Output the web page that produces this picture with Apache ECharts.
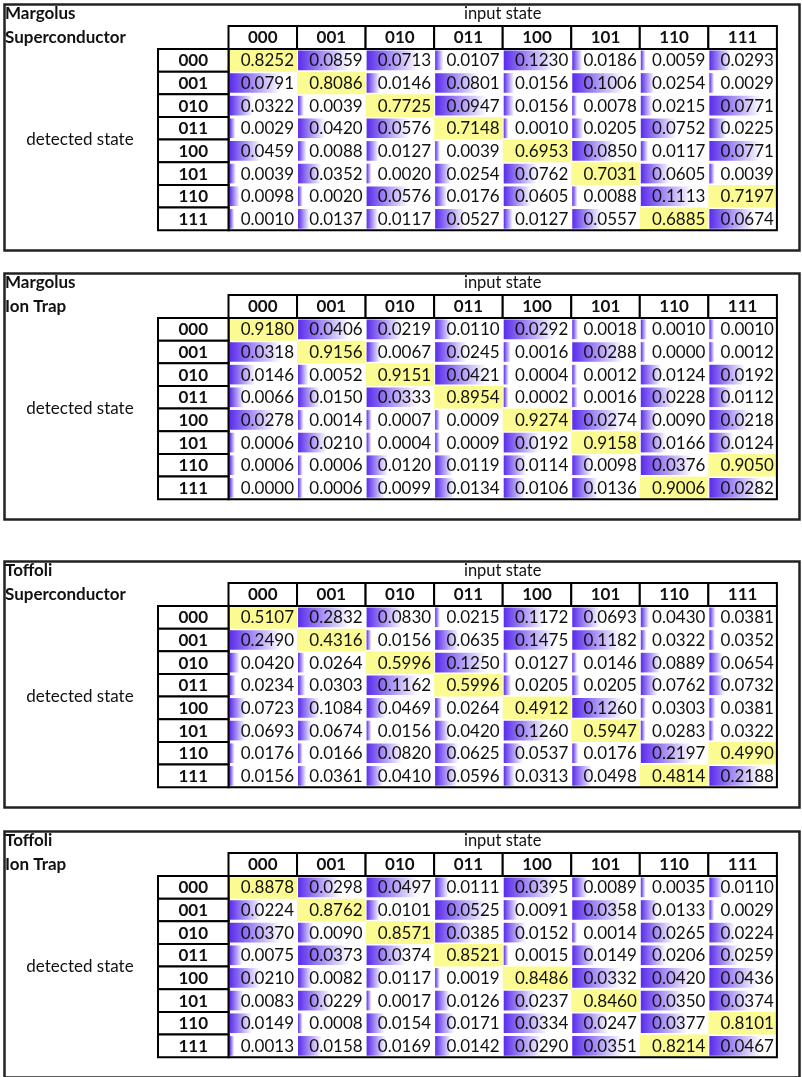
<!DOCTYPE html>
<html>
<head>
<meta charset="utf-8">
<script src="https://cdn.jsdelivr.net/npm/echarts@6/dist/echarts.min.js"></script>
<style>
html,body{margin:0;padding:0;background:#fff;}
#chart{width:802px;height:1077px;}
</style>
</head>
<body>
<div id="chart"></div>
<script>
// ---------- data ----------
const inputStates = ['000','001','010','011','100','101','110','111'];
const detectedStates = ['000','001','010','011','100','101','110','111'];
// expected (highlighted) detected state for each input state
const expectedOutput = ['000','001','010','011','100','101','111','110'];

const panelTitles = [
  ['Margolus', 'Superconductor'],
  ['Margolus', 'Ion Trap'],
  ['Toffoli', 'Superconductor'],
  ['Toffoli', 'Ion Trap']
];

// rows = detected state, columns = input state
const margolusSuperconductor = [
  [0.8252, 0.0859, 0.0713, 0.0107, 0.1230, 0.0186, 0.0059, 0.0293],
  [0.0791, 0.8086, 0.0146, 0.0801, 0.0156, 0.1006, 0.0254, 0.0029],
  [0.0322, 0.0039, 0.7725, 0.0947, 0.0156, 0.0078, 0.0215, 0.0771],
  [0.0029, 0.0420, 0.0576, 0.7148, 0.0010, 0.0205, 0.0752, 0.0225],
  [0.0459, 0.0088, 0.0127, 0.0039, 0.6953, 0.0850, 0.0117, 0.0771],
  [0.0039, 0.0352, 0.0020, 0.0254, 0.0762, 0.7031, 0.0605, 0.0039],
  [0.0098, 0.0020, 0.0576, 0.0176, 0.0605, 0.0088, 0.1113, 0.7197],
  [0.0010, 0.0137, 0.0117, 0.0527, 0.0127, 0.0557, 0.6885, 0.0674]
];
const margolusIonTrap = [
  [0.9180, 0.0406, 0.0219, 0.0110, 0.0292, 0.0018, 0.0010, 0.0010],
  [0.0318, 0.9156, 0.0067, 0.0245, 0.0016, 0.0288, 0.0000, 0.0012],
  [0.0146, 0.0052, 0.9151, 0.0421, 0.0004, 0.0012, 0.0124, 0.0192],
  [0.0066, 0.0150, 0.0333, 0.8954, 0.0002, 0.0016, 0.0228, 0.0112],
  [0.0278, 0.0014, 0.0007, 0.0009, 0.9274, 0.0274, 0.0090, 0.0218],
  [0.0006, 0.0210, 0.0004, 0.0009, 0.0192, 0.9158, 0.0166, 0.0124],
  [0.0006, 0.0006, 0.0120, 0.0119, 0.0114, 0.0098, 0.0376, 0.9050],
  [0.0000, 0.0006, 0.0099, 0.0134, 0.0106, 0.0136, 0.9006, 0.0282]
];
const toffoliSuperconductor = [
  [0.5107, 0.2832, 0.0830, 0.0215, 0.1172, 0.0693, 0.0430, 0.0381],
  [0.2490, 0.4316, 0.0156, 0.0635, 0.1475, 0.1182, 0.0322, 0.0352],
  [0.0420, 0.0264, 0.5996, 0.1250, 0.0127, 0.0146, 0.0889, 0.0654],
  [0.0234, 0.0303, 0.1162, 0.5996, 0.0205, 0.0205, 0.0762, 0.0732],
  [0.0723, 0.1084, 0.0469, 0.0264, 0.4912, 0.1260, 0.0303, 0.0381],
  [0.0693, 0.0674, 0.0156, 0.0420, 0.1260, 0.5947, 0.0283, 0.0322],
  [0.0176, 0.0166, 0.0820, 0.0625, 0.0537, 0.0176, 0.2197, 0.4990],
  [0.0156, 0.0361, 0.0410, 0.0596, 0.0313, 0.0498, 0.4814, 0.2188]
];
const toffoliIonTrap = [
  [0.8878, 0.0298, 0.0497, 0.0111, 0.0395, 0.0089, 0.0035, 0.0110],
  [0.0224, 0.8762, 0.0101, 0.0525, 0.0091, 0.0358, 0.0133, 0.0029],
  [0.0370, 0.0090, 0.8571, 0.0385, 0.0152, 0.0014, 0.0265, 0.0224],
  [0.0075, 0.0373, 0.0374, 0.8521, 0.0015, 0.0149, 0.0206, 0.0259],
  [0.0210, 0.0082, 0.0117, 0.0019, 0.8486, 0.0332, 0.0420, 0.0436],
  [0.0083, 0.0229, 0.0017, 0.0126, 0.0237, 0.8460, 0.0350, 0.0374],
  [0.0149, 0.0008, 0.0154, 0.0171, 0.0334, 0.0247, 0.0377, 0.8101],
  [0.0013, 0.0158, 0.0169, 0.0142, 0.0290, 0.0351, 0.8214, 0.0467]
];
const panelData = [margolusSuperconductor, margolusIonTrap, toffoliSuperconductor, toffoliIonTrap];

// ---------- layout ----------
const FONT = 'Lato, "Open Sans", sans-serif';
const panelTops = [2, 271, 559, 829];
const PANEL_LEFT = 2, PANEL_W = 795, PANEL_H = 246;
const TABLE_LEFT = 228.5, COL_W = 68.55, ROW_H = 22.65, HEAD_H = 23, ROWHEAD_W = 70.5;
const YELLOW = '#fbfb92';
const BAR_START = '#5a2cec';

const barGradient = new echarts.graphic.LinearGradient(0, 0, 1, 0, [
  {offset: 0, color: BAR_START},
  {offset: 1, color: '#ffffff'}
]);

function cellSeriesData(matrix) {
  const hlRow = inputStates.map((s, c) => detectedStates.indexOf(expectedOutput[c]));
  const out = [];
  for (let c = 0; c < inputStates.length; c++) {
    const vals = [];
    for (let r = 0; r < detectedStates.length; r++) if (r !== hlRow[c]) vals.push(matrix[r][c]);
    const mn = Math.min(...vals), mx = Math.max(...vals);
    for (let r = 0; r < detectedStates.length; r++) {
      const v = matrix[r][c];
      const hl = r === hlRow[c] ? 1 : 0;
      const frac = hl ? 0 : 0.07 + 0.68 * (mx > mn ? (v - mn) / (mx - mn) : 1);
      out.push([c, r, v, hl, frac]);
    }
  }
  return out;
}

function renderCell(params, api) {
  const c = api.value(0), r = api.value(1), v = api.value(2), hl = api.value(3), frac = api.value(4);
  const p = api.coord([c, r]);
  const s = api.size([1, 1]);
  const x0 = p[0] - s[0] / 2, y0 = p[1] - s[1] / 2;
  const children = [];
  if (hl) {
    children.push({type: 'rect', shape: {x: x0, y: y0, width: s[0], height: s[1]}, style: {fill: YELLOW}});
  } else {
    children.push({type: 'rect', shape: {x: x0 + 1, y: y0 + 1.5, width: frac * s[0], height: s[1] - 3},
      style: {fill: barGradient}});
  }
  children.push({type: 'text', style: {text: v.toFixed(4), x: x0 + s[0] - 3, y: p[1] + 0.5,
    align: 'right', verticalAlign: 'middle', font: '17px ' + FONT, fill: '#111'}});
  return {type: 'group', children};
}

function renderColHead(params, api) {
  const c = api.value(0);
  const p = api.coord([c, 0]);
  const s = api.size([1, 1]);
  const x0 = p[0] - s[0] / 2, yTop = p[1] - s[1] / 2;
  return {type: 'group', children: [
    {type: 'rect', shape: {x: x0, y: yTop - HEAD_H, width: s[0], height: HEAD_H},
      style: {fill: '#fff', stroke: '#000', lineWidth: 2}},
    {type: 'text', style: {text: inputStates[params.dataIndex], x: p[0], y: yTop - HEAD_H / 2 + 0.5,
      align: 'center', verticalAlign: 'middle', font: 'bold 17px ' + FONT, fill: '#111'}}
  ]};
}

function renderRowHead(params, api) {
  const r = api.value(1);
  const p = api.coord([0, r]);
  const s = api.size([1, 1]);
  const xLeft = p[0] - s[0] / 2, y0 = p[1] - s[1] / 2;
  return {type: 'group', children: [
    {type: 'rect', shape: {x: xLeft - ROWHEAD_W, y: y0, width: ROWHEAD_W, height: s[1]},
      style: {fill: '#fff', stroke: '#000', lineWidth: 2}},
    {type: 'text', style: {text: detectedStates[params.dataIndex], x: xLeft - ROWHEAD_W / 2, y: p[1] + 0.5,
      align: 'center', verticalAlign: 'middle', font: 'bold 17px ' + FONT, fill: '#111'}}
  ]};
}

function renderFrame(params, api) {
  const a = api.coord([0, 0]);
  const b = api.coord([inputStates.length - 1, detectedStates.length - 1]);
  const s = api.size([1, 1]);
  return {type: 'rect', shape: {x: a[0] - s[0] / 2, y: a[1] - s[1] / 2,
      width: b[0] - a[0] + s[0], height: b[1] - a[1] + s[1]},
    style: {fill: 'none', stroke: '#000', lineWidth: 2}};
}

const grids = [], xAxes = [], yAxes = [], series = [], graphics = [];
panelTops.forEach((T, i) => {
  grids.push({left: TABLE_LEFT, top: T + 47, width: COL_W * 8, height: ROW_H * 8});
  xAxes.push({type: 'category', gridIndex: i, data: inputStates, show: false});
  yAxes.push({type: 'category', gridIndex: i, data: detectedStates, inverse: true, show: false});
  series.push({type: 'custom', xAxisIndex: i, yAxisIndex: i, renderItem: renderCell,
    data: cellSeriesData(panelData[i]), z: 2, silent: true});
  series.push({type: 'custom', xAxisIndex: i, yAxisIndex: i, renderItem: renderFrame,
    data: [[0, 0]], z: 3, silent: true});
  series.push({type: 'custom', xAxisIndex: i, yAxisIndex: i, renderItem: renderColHead,
    data: inputStates.map((s, c) => [c, 0]), z: 4, silent: true});
  series.push({type: 'custom', xAxisIndex: i, yAxisIndex: i, renderItem: renderRowHead,
    data: detectedStates.map((s, r) => [0, r]), z: 4, silent: true});

  graphics.push({type: 'rect', left: PANEL_LEFT, top: T, shape: {width: PANEL_W, height: PANEL_H},
    style: {fill: 'none', stroke: '#222', lineWidth: 2.5}, silent: true});
  graphics.push({type: 'text', x: 5, y: T + 12, style: {text: panelTitles[i][0], font: 'bold 17px ' + FONT,
    fill: '#111', verticalAlign: 'middle'}});
  graphics.push({type: 'text', x: 5, y: T + 36, style: {text: panelTitles[i][1], font: 'bold 17px ' + FONT,
    fill: '#111', verticalAlign: 'middle'}});
  graphics.push({type: 'text', x: TABLE_LEFT + COL_W * 4, y: T + 12, style: {text: 'input state',
    font: '16.5px ' + FONT, fill: '#111', align: 'center', verticalAlign: 'middle'}});
  graphics.push({type: 'text', x: 80, y: T + 47 + ROW_H * 4, style: {text: 'detected state',
    font: '17px ' + FONT, fill: '#111', align: 'center', verticalAlign: 'middle'}});
});

const chart = echarts.init(document.getElementById('chart'), null, {renderer: 'canvas'});
chart.setOption({
  animation: false,
  backgroundColor: '#fff',
  grid: grids,
  xAxis: xAxes,
  yAxis: yAxes,
  series: series,
  graphic: graphics
});
</script>
</body>
</html>
